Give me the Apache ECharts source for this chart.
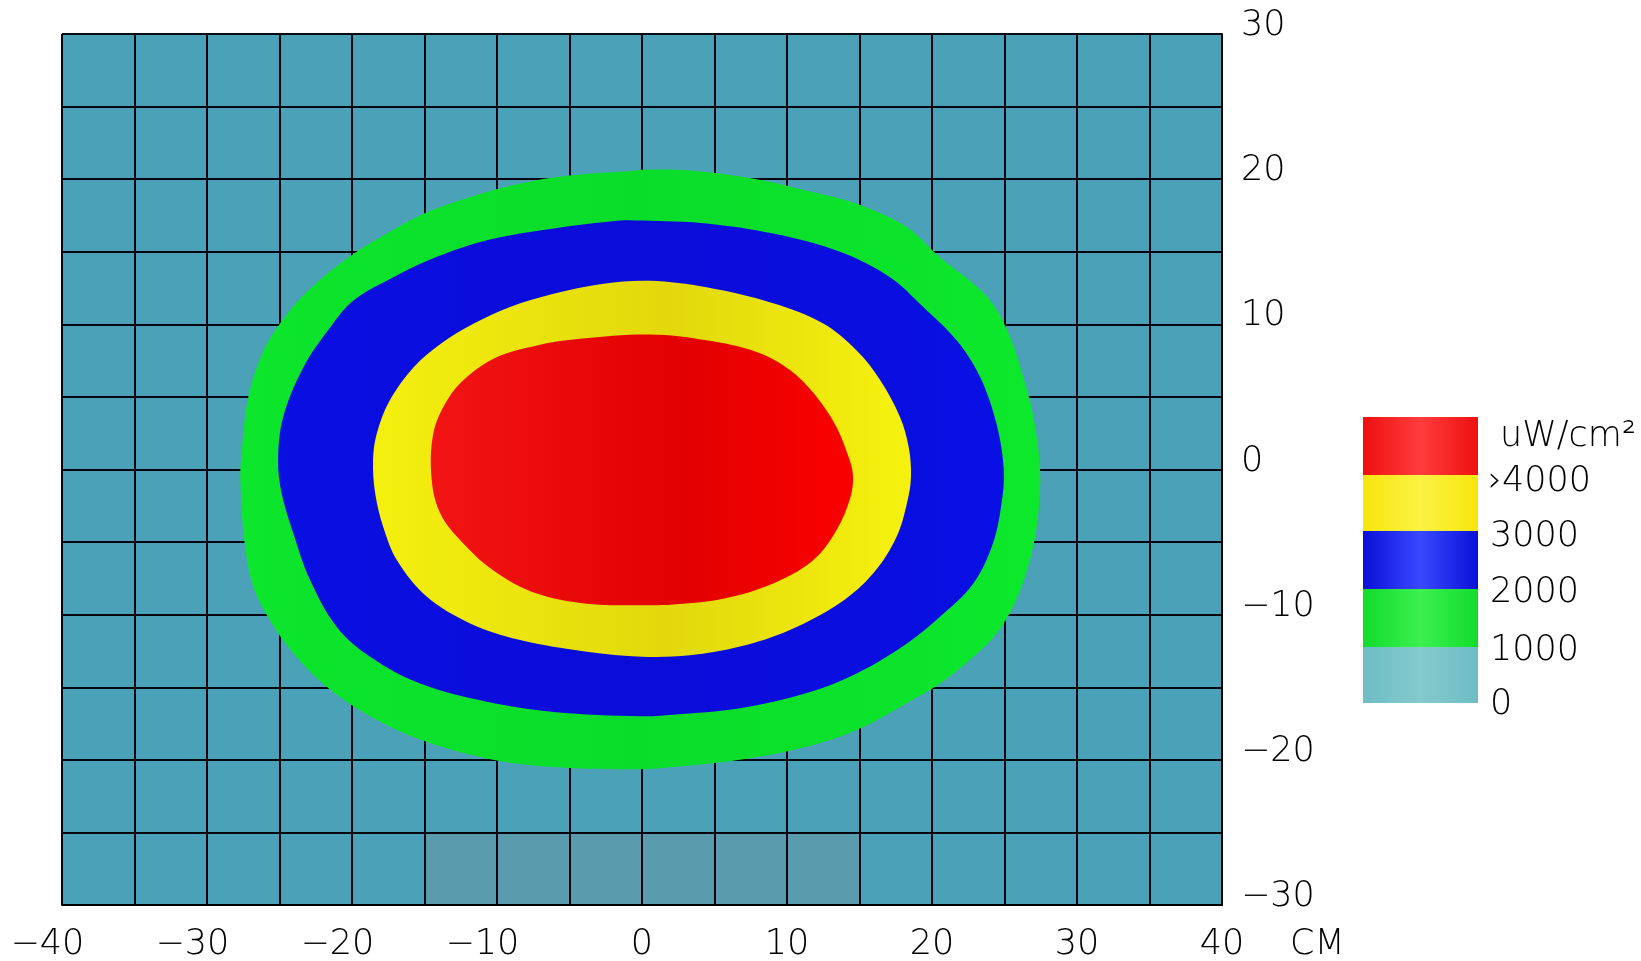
<!DOCTYPE html>
<html>
<head>
<meta charset="utf-8">
<script src="https://cdn.jsdelivr.net/npm/echarts@6/dist/echarts.min.js"></script>
<style>
html,body{margin:0;padding:0;background:#fff;}
#chart{width:1641px;height:961px;}
</style>
</head>
<body>
<div id="chart"></div>
<script>
// ---- data ----
const xTicks = [-40,-30,-20,-10,0,10,20,30,40];
const yTicks = [-30,-20,-10,0,10,20,30];
const unitLabel = 'CM';
// low-intensity cells along bottom row: [xStart, yStart], cell size 5 cm
const lowCells = [[-15,-30],[-10,-30],[-5,-30],[0,-30],[5,-30],[10,-30]];
const cellSize = 5;

// contour boundaries (cm), outermost first
const contour1000 = [[0,20.65],[3.3,20.6],[7.9,20.0],[11.4,19.2],[14.8,18.3],[18.25,16.7],[20.55,14.6],[22.85,12.8],[24.2,11.4],[25.4,9.1],[26.3,6.35],[27.0,3.6],[27.45,0],
 [27.3,-3.3],[26.75,-6.25],[25.8,-9.0],[24.45,-11.3],[22.85,-12.9],[20.55,-14.75],[18.25,-16.1],[14.8,-17.95],[11.35,-19.1],[6.75,-20.0],[2.15,-20.5],[0,-20.65],
 [-6.1,-20.5],[-10.7,-19.9],[-15.3,-18.6],[-18.75,-17.0],[-21.7,-15.0],[-24.05,-12.65],[-25.65,-10.4],[-26.8,-8.1],[-27.4,-5.1],[-27.7,-0.7],
 [-27.6,1.3],[-27.15,5.0],[-26.1,8.2],[-25.0,10.0],[-23.7,11.65],[-22.0,13.25],[-19.9,14.85],[-17.6,16.25],[-15.1,17.6],[-11.9,18.75],[-8.4,19.7],[-5.0,20.25],[-0.4,20.6]];
const contour2000 = [[0,17.15],[4.45,16.95],[9.05,16.25],[13.65,15.0],[17.1,13.25],[19.4,11.2],[21.7,8.9],[23.3,6.4],[24.45,3.15],[24.95,0],
 [24.8,-2.3],[24.2,-5.1],[22.85,-7.85],[20.55,-10.15],[18.25,-12.0],[14.8,-14.05],[11.35,-15.4],[6.75,-16.45],[2.15,-16.9],[0,-17.0],
 [-6.1,-16.7],[-10.7,-16.0],[-15.3,-14.75],[-18.75,-12.9],[-21.05,-10.85],[-22.9,-7.6],[-24.05,-4.4],[-24.85,-1.65],[-25.1,0.6],
 [-24.75,3.6],[-23.35,7.05],[-21.5,9.8],[-19.9,11.65],[-17.15,13.25],[-14.15,14.65],[-10.7,15.8],[-6.1,16.6],[-1.5,17.15]];
const contour3000 = [[0.55,13.0],[4.45,12.55],[9.05,11.45],[12.5,10.05],[14.8,8.2],[16.4,6.2],[17.8,3.6],[18.4,1.5],[18.55,-0.5],
 [18.3,-2.2],[17.55,-4.65],[15.95,-7.15],[13.65,-9.2],[10.2,-11.05],[6.75,-12.2],[3.3,-12.8],[0,-12.9],
 [-3.8,-12.55],[-8.4,-11.75],[-11.85,-10.6],[-14.85,-8.75],[-16.9,-6.25],[-17.85,-3.95],[-18.4,-1.65],[-18.55,0.6],
 [-18.3,2.45],[-17.4,4.75],[-15.75,7.05],[-13.9,8.65],[-11.6,10.05],[-9.1,11.2],[-6.1,12.1],[-2.65,12.8]];
const contour4000 = [[0.55,9.3],[4.45,8.9],[7.9,8.1],[10.2,6.85],[12.05,5.0],[13.4,2.95],[14.2,1.0],[14.55,-0.4],
 [14.35,-2.0],[13.4,-4.2],[11.8,-6.25],[9.05,-7.85],[5.6,-8.9],[2.15,-9.3],[0,-9.35],
 [-3.8,-9.25],[-7.25,-8.55],[-10.25,-6.95],[-12.55,-4.85],[-13.9,-3.05],[-14.5,-0.75],
 [-14.4,2.45],[-13.45,4.75],[-12.1,6.35],[-10.0,7.75],[-7.25,8.55],[-4.3,9.0]];
const contours = [contour1000, contour2000, contour3000, contour4000];

const legendLabels = ['uW/cm²','›4000','3000','2000','1000','0'];

// ---- styles ----
const FONT = "'DejaVu Sans', sans-serif";
const FS = 35;
const FW = 200;
const grad = (stops) => ({type:'linear', x:0, y:0, x2:1, y2:0, colorStops: stops.map(s=>({offset:s[0], color:s[1]}))});
const contourFills = [
  grad([[0,'#0ce62c'],[0.5,'#0adc2a'],[1,'#0ce82c']]),
  grad([[0,'#0a0fe2'],[0.5,'#0a0cd8'],[1,'#0a10e4']]),
  grad([[0,'#f4f00e'],[0.55,'#e2d80c'],[1,'#f6f20e']]),
  grad([[0,'#f21414'],[0.6,'#e20000'],[1,'#fb0000']])
];
const legendFills = [
  grad([[0,'#ee1010'],[0.5,'#ff3c3c'],[1,'#ee1010']]),
  grad([[0,'#f6e60c'],[0.5,'#fbf244'],[1,'#f6e60c']]),
  grad([[0,'#0a10d8'],[0.5,'#3a48ff'],[1,'#0a10d8']]),
  grad([[0,'#12dc2a'],[0.5,'#3cf050'],[1,'#12dc2a']]),
  grad([[0,'#6ebcc4'],[0.5,'#84cace'],[1,'#6ebcc4']])
];

const chart = echarts.init(document.getElementById('chart'), null, {renderer:'canvas'});

const fmtX = v => {
  if (v % 10 !== 0) return '';
  if (v < 0) return '\u2212' + (-v) + '{h|\u2212}';
  return String(v);
};
const fmtY = v => {
  if (v % 10 !== 0) return '';
  return v < 0 ? '\u2212' + (-v) : String(v);
};

const legendTops = [417, 475, 531, 589, 647, 703];
const legendGraphics = [];
for (let i = 0; i < 5; i++) {
  legendGraphics.push({type:'rect', left:1363, top:legendTops[i], shape:{width:115, height:legendTops[i+1]-legendTops[i]}, style:{fill:legendFills[i]}, z:10});
}
const labelY = [437, 482, 537, 593, 651, 705];
const labelX = [1500, 1488, 1490, 1490, 1490, 1490];
legendLabels.forEach((t,i)=>{
  legendGraphics.push({type:'text', x:labelX[i], y:labelY[i], style:{text:t, fill:'#000', font: FW+' '+FS+'px '+FONT, textAlign:'left', textVerticalAlign:'middle'}, z:10});
});
legendGraphics.push({type:'text', x:1290, y:945, style:{text:unitLabel, fill:'#000', font: FW+' '+FS+'px '+FONT, textAlign:'left', textVerticalAlign:'middle'}, z:10});

const option = {
  animation:false,
  backgroundColor:'#ffffff',
  grid:{left:62, right:419, top:34, bottom:56, show:true, backgroundColor:'#4ba1b7', borderWidth:0, z:0, outerBoundsMode:'none', containLabel:false},
  xAxis:{type:'value', min:-40, max:40, interval:5, position:'bottom', z:2,
    axisLine:{show:true, onZero:false, lineStyle:{color:'#000', width:2}},
    axisTick:{show:false},
    splitLine:{show:true, lineStyle:{color:'#05050f', width:2}},
    axisLabel:{formatter:fmtX, margin:40, verticalAlign:'middle', color:'#000', fontSize:FS, fontWeight:FW, fontFamily:FONT, showMinLabel:true, showMaxLabel:true,
      rich:{h:{color:'transparent', fontSize:FS, fontWeight:FW, fontFamily:FONT}}}
  },
  yAxis:{type:'value', min:-30, max:30, interval:5, position:'right', z:2,
    axisLine:{show:true, onZero:false, lineStyle:{color:'#000', width:2}},
    axisTick:{show:false},
    splitLine:{show:true, lineStyle:{color:'#05050f', width:2}},
    axisLabel:{formatter:fmtY, margin:19, align:'left', verticalAlign:'bottom', lineHeight:16, color:'#000', fontSize:FS, fontWeight:FW, fontFamily:FONT, showMinLabel:true, showMaxLabel:true}
  },
  graphic:legendGraphics,
  series:[
    {type:'custom', z:1, coordinateSystem:'cartesian2d', silent:true,
     data: lowCells,
     encode:{x:0, y:1},
     renderItem:(params, api)=>{
       const x0 = api.value(0), y0 = api.value(1);
       const p1 = api.coord([x0, y0+cellSize]);
       const p2 = api.coord([x0+cellSize, y0]);
       return {type:'rect', shape:{x:p1[0], y:p1[1], width:p2[0]-p1[0], height:p2[1]-p1[1]}, style:{fill:'#5b9bae'}};
     }
    },
    {type:'custom', z:3, coordinateSystem:'cartesian2d', silent:true,
     data: contours.map((c,i)=>[0,0,i]),
     encode:{x:0, y:1},
     renderItem:(params, api)=>{
       const idx = api.value(2);
       const pts = contours[idx].map(p=>api.coord(p));
       return {type:'polygon', shape:{points:pts, smooth:0.35}, style:{fill:contourFills[idx]}};
     }
    }
  ]
};
chart.setOption(option);
</script>
</body>
</html>
